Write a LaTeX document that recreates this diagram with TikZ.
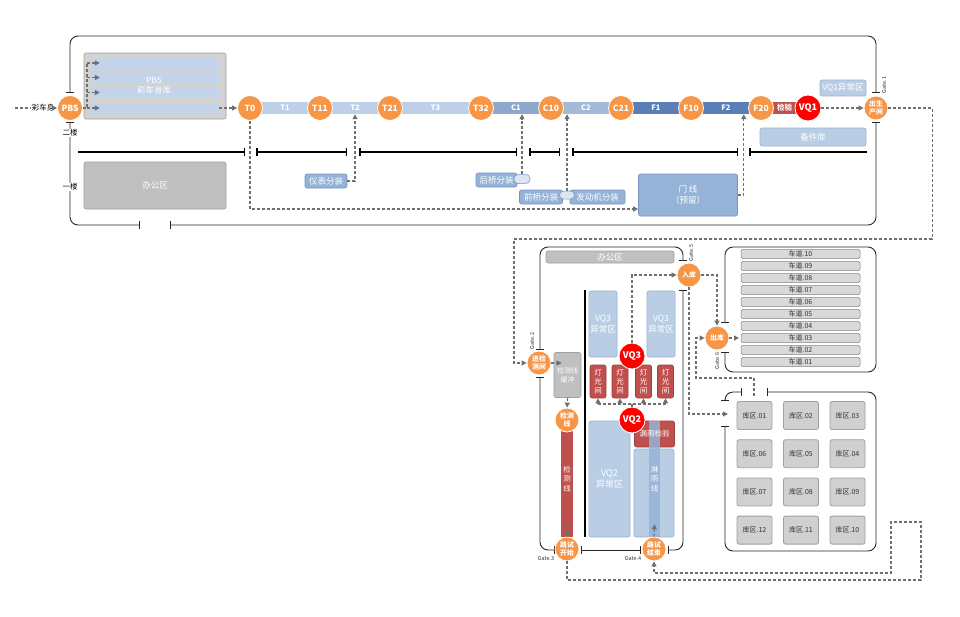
\documentclass[tikz,border=0pt]{standalone}
\usepackage{fontspec}
\setmainfont{Noto Sans CJK SC}
\usetikzlibrary{arrows.meta, positioning, calc, shapes.geometric}

\definecolor{orangeC}{HTML}{F79646}
\definecolor{vqred}{HTML}{FF0000}
\definecolor{redbar}{HTML}{C0504D}
\definecolor{tblue}{HTML}{BDD0E8}
\definecolor{cblue}{HTML}{8EA8CD}
\definecolor{ctwo}{HTML}{A3BAD9}
\definecolor{fblue}{HTML}{5A7EB6}
\definecolor{lblue}{HTML}{B9CDE5}
\definecolor{lbluedraw}{HTML}{9AB2D0}
\definecolor{mblue}{HTML}{95B3D7}
\definecolor{mbluedraw}{HTML}{7693BD}
\definecolor{grayC}{HTML}{C0C0C0}
\definecolor{grayD}{HTML}{A0A0A0}
\definecolor{pbsgray}{HTML}{D2D2D2}
\definecolor{stripeblue}{HTML}{C3D4EA}
\definecolor{lanegray}{HTML}{D9D9D9}
\definecolor{flowgray}{HTML}{707070}

\begin{document}
\begin{tikzpicture}[x=1pt, y=-1pt,
    stnode/.style={circle, fill=orangeC, draw=white, line width=0.8pt, minimum size=25pt, inner sep=0pt,
        text=white, font=\bfseries\fontsize{8.5}{9}\selectfont},
    gatenode/.style={stnode, minimum size=24pt, align=center, font=\bfseries\fontsize{6.8}{8.3}\selectfont},
    vqnode/.style={stnode, fill=vqred, minimum size=26pt, font=\bfseries\fontsize{9}{9}\selectfont},
    linebar/.style={rectangle, minimum height=12pt, inner sep=0pt, text=white, font=\bfseries\fontsize{7.5}{8}\selectfont},
    graybox/.style={rectangle, rounded corners=2pt, fill=grayC, draw=grayD, line width=0.6pt, inner sep=0pt,
        text=white, align=center, font=\fontsize{8.5}{10.5}\selectfont},
    bluebox/.style={graybox, fill=lblue, draw=lbluedraw},
    midbox/.style={graybox, fill=mblue, draw=mbluedraw},
    redbox/.style={graybox, fill=redbar, draw=redbar!80!black, font=\fontsize{7.5}{9}\selectfont},
    pill/.style={rectangle, rounded corners=4pt, fill=lblue!50, draw=mbluedraw, line width=0.5pt,
        minimum width=16pt, minimum height=9pt, inner sep=0pt},
    lanebox/.style={rectangle, rounded corners=1.5pt, fill=lanegray, draw=gray, line width=0.5pt, inner sep=0pt,
        minimum width=119pt, minimum height=9pt, font=\fontsize{7}{8}\selectfont, text=black!80},
    cellbox/.style={lanebox, rounded corners=2pt, fill=lanegray!90!gray, draw=grayD, line width=0.8pt,
        minimum width=35pt, minimum height=28pt},
    gatelbl/.style={inner sep=0pt, font=\fontsize{5.5}{6}\selectfont, text=black!80},
    floorlbl/.style={fill=white, inner sep=1pt, font=\fontsize{7.5}{8}\selectfont},
    wall/.style={draw=black!85, line width=0.9pt, rounded corners=8pt},
    floorln/.style={draw=black, line width=1.5pt},
    flowline/.style={draw=flowgray, dash pattern=on 3pt off 2pt, line width=1.2pt},
    flow/.style={flowline, -{Triangle[length=5pt, width=5pt]}}
]
\useasboundingbox (0,0) rectangle (960,616);

% ---------- production building ----------
\draw[wall, {Bar[width=8pt]}-{Bar[width=8pt]}] (70,93) -- (70,36) -- (876,36) -- (876,93);
\draw[wall, {Bar[width=8pt]}-{Bar[width=8pt]}] (70,122) -- (70,225) -- (140,225);
\draw[wall, {Bar[width=8pt]}-{Bar[width=8pt]}] (170,225) -- (876,225) -- (876,122);

\draw[floorln, -{Bar[width=8pt]}] (78,152) -- (245,152);
\foreach \a/\b in {256/347, 359/517, 529/560, 572/738}
    \draw[floorln, {Bar[width=8pt]}-{Bar[width=8pt]}] (\a,152) -- (\b,152);
\draw[floorln, {Bar[width=8pt]}-] (749,152) -- (867,152);

\node[floorlbl] (floor2) at (70,133) {二楼};
\node[floorlbl] (floor1) at (70,187) {一楼};

% PBS store
\node[graybox, fill=pbsgray, minimum width=142pt, minimum height=66pt] (pbsku) at (155,86) {};
\foreach \y [count=\i] in {63,77.5,92.5,108}
    \node[fill=stripeblue, minimum width=127pt, minimum height=11pt, inner sep=0pt] (s\i) at (155.5,\y) {};
\node[text=white, align=center, font=\fontsize{8.5}{10.5}\selectfont] (pbstxt) at (154,85.5) {PBS\\彩车身库};

\node[graybox, minimum width=142pt, minimum height=47pt] (office1) at (155,185.5) {办公区};

% main line
\foreach \n/\x/\w/\c in {T1/285/70pt/tblue, T2/355/70pt/tblue, T3/435.5/91pt/tblue, C1/516/70pt/cblue,
        C2/586/70pt/ctwo, F1/656/70pt/fblue, F2/726/70pt/fblue}
    \node[linebar, fill=\c, minimum width=\w] (b\n) at (\x,108) {\n};
\node[linebar, fill=redbar, minimum width=47pt] (bJY) at (784.5,108) {检验};

\foreach \n/\x in {T0/250, T11/320, T21/390, T32/481, C10/551, C21/621, F10/691, F20/761}
    \node[stnode] (\n) at (\x,108) {\n};
\node[vqnode] (VQ1) at (808,108) {VQ1};
\node[stnode] (PBS) at (70,108) {PBS};
\node[gatenode] (chusheng) at (876,108) {出生\\产间};
\node[gatelbl, rotate=90] (gate1) at (884,85) {Gate.1};

\node[bluebox, minimum width=46pt, minimum height=16pt] (vq1yc) at (843,88) {VQ1异常区};
\node[bluebox, minimum width=106pt, minimum height=18pt] (beijian) at (813,137) {备件库};

\node[midbox, minimum width=42pt, minimum height=14pt] (yibiao) at (326,181) {仪表分装};
\node[midbox, minimum width=41pt, minimum height=14pt] (houqiao) at (496.5,180) {后桥分装};
\node[pill] (pill1) at (522,179) {};
\node[midbox, minimum width=43pt, minimum height=14pt] (qianqiao) at (541,197) {前桥分装};
\node[midbox, minimum width=55pt, minimum height=14pt] (fadongji) at (597.5,197) {发动机分装};
\node[pill, minimum width=15pt, minimum height=8pt] (pill2) at (567,195) {};
\node[midbox, minimum width=99pt, minimum height=42pt] (menxian) at (688,195) {门 线\\（预留）};

% flows, upper part
\node[inner sep=1pt, font=\fontsize{7.5}{8}\selectfont] (caiche) at (43,108) {彩车身};
\draw[flowline] (15,108) -- (caiche);
\draw[flow] (caiche) -- (PBS);
\coordinate (pbsbus) at (87,108);
\draw[flowline] (PBS.east) -- (pbsbus) -- (pbsbus |- s1.west);
\foreach \i in {1,...,4}
    \draw[flow] (pbsbus |- s\i.west) -- ([xshift=8pt]s\i.west);
\draw[flow] (s4.east) -- (T0);
\draw[flow] (T0.south) |- ([yshift=-14pt]menxian.west);
\draw[flow] (yibiao.east) -| (bT2.south);
\draw[flow] (pill1.north) -- (pill1.north |- bC1.south);
\draw[flow] (pill2.north) -- (pill2.north |- bC2.south);
\draw[flow] (menxian.east) -- ++(6,0) coordinate (mx) -- (mx |- bF2.south);
\draw[flow] (VQ1) -- (chusheng);

% ---------- inspection building ----------
\draw[wall, {Bar[width=8pt]}-{Bar[width=8pt]}] (540,350) -- (540,247) -- (683,247) -- (683,261);
\draw[wall, {Bar[width=8pt]}-{Bar[width=8pt]}] (540,377) -- (540,550) -- (555,550);
\draw[wall, {Bar[width=8pt]}-{Bar[width=8pt]}] (581,550) -- (641,550);
\draw[wall, {Bar[width=8pt]}-{Bar[width=8pt]}] (668,550) -- (683,550) -- (683,290);
\draw[floorln] (585,290) -- (585,537);

\node[graybox, minimum width=128pt, minimum height=12pt] (office2) at (610,257) {办公区};
\node[bluebox, minimum width=28pt, minimum height=66pt] (vq3l) at (603,324) {VQ3\\异常区};
\node[bluebox, minimum width=28pt, minimum height=66pt] (vq3r) at (661,324) {VQ3\\异常区};
\foreach \x [count=\i] in {598,620,643.5,665.5}
    \node[redbox, minimum width=16pt, minimum height=33pt] (lamp\i) at (\x,381.5) {灯\\光\\间};
\node[graybox, minimum width=27pt, minimum height=45pt, font=\fontsize{7}{9}\selectfont] (huanchong) at (567.5,375) {检测线\\缓冲};
\node[bluebox, minimum width=41pt, minimum height=116pt, font=\fontsize{9}{11.5}\selectfont] (vq2yc) at (609.5,479) {VQ2\\异常区};
\node[redbox, minimum width=40pt, minimum height=26pt] (louyu) at (654.5,434) {};
\node[bluebox, minimum width=40pt, minimum height=88pt] (linyubox) at (654,493) {};
\node[linebar, fill=mblue, fill opacity=0.85, text opacity=1, minimum width=11pt, minimum height=116pt, align=center,
    font=\fontsize{7.5}{9.5}\selectfont] (linyu) at (654.5,479) {淋\\雨\\线};
\node[text=white, font=\fontsize{7.5}{9}\selectfont] (louyutxt) at (louyu) {漏雨检验};
\node[linebar, fill=redbar, minimum width=12pt, minimum height=116pt, align=center,
    font=\fontsize{7.5}{9.5}\selectfont] (jcline) at (567,479) {检\\测\\线};

\node[gatenode] (jinjian) at (539,363) {进检\\测间};
\node[gatenode] (ruku) at (689,275) {入库};
\node[gatenode] (jiance) at (567,420) {检测\\线};
\node[gatenode] (lsstart) at (567,549) {路试\\开始};
\node[gatenode] (lsend) at (654,549) {路试\\结束};
\node[vqnode] (VQ3) at (632,356) {VQ3};
\node[vqnode] (VQ2) at (632,420) {VQ2};

\node[gatelbl, rotate=90] (gate2) at (532,341) {Gate.2};
\node[gatelbl, rotate=90] (gate5) at (691,253) {Gate.5};
\node[gatelbl] (gate3) at (546,558) {Gate.3};
\node[gatelbl] (gate4) at (633,558) {Gate.4};

% ---------- lanes and storage ----------
\draw[wall, {Bar[width=8pt]}-{Bar[width=8pt]}] (725,323) -- (725,247) -- (876,247) -- (876,372) -- (725,372) -- (725,352);
\foreach \n [count=\i] in {01,02,03,04,05,06,07,08,09,10}
    \node[lanebox] (lane\n) at (800.5,{374-12*\i}) {车道.\n};
\node[gatenode] (chuku) at (717,338) {出库};
\node[gatelbl, rotate=90] (gate6) at (717,361) {Gate.6};

\draw[wall, {Bar[width=8pt]}-{Bar[width=8pt]}] (742,392) -- (725,392) -- (725,401);
\draw[wall, {Bar[width=8pt]}-{Bar[width=8pt]}] (767,392) -- (876,392) -- (876,551) -- (725,551) -- (725,426);
\foreach \n/\c/\r in {01/0/0, 02/1/0, 03/2/0, 06/0/1, 05/1/1, 04/2/1,
        07/0/2, 08/1/2, 09/2/2, 12/0/3, 11/1/3, 10/2/3}
    \node[cellbox] (cell\n) at ({754.5+46.5*\c},{415.5+38.2*\r}) {库区.\n};
\coordinate (kqin) at (728,414);
\coordinate (kqout) at (754,396);
\coordinate (cdin) at (739,338);

% flows, lower part
\draw[flow] (chusheng.east) -- ++(44,0) |- (514,239) |- (jinjian.west);
\draw[flow] (jinjian.east) -- ([xshift=8pt]huanchong.west |- jinjian.east);
\draw[flow] (huanchong.south) -- (jiance.north);
\draw[flow] ([yshift=13pt]jcline.south) -- (jcline.south);
\draw[flow] (lsstart.south) |- (921,580) -- (921,522) -| (891,573) -| (lsend.south);
\draw[flow] (lsend.north) -- ([yshift=13pt]linyu.south);
\coordinate (lampbus) at (632,404);
\draw[flowline] (VQ2.north) -- (lampbus);
\draw[flowline] (lamp1.south |- lampbus) -- (lamp4.south |- lampbus);
\foreach \i in {1,...,4}
    \draw[flow] (lamp\i.south |- lampbus) -- (lamp\i.south);
\draw[flow] (VQ3.north) |- (ruku.west);
\draw[flow] (ruku.east) -| (chuku.north);
\draw[flow] (ruku.south) |- (kqin);
\draw[flow] (kqout) |- (696,378) |- (chuku.west);
\draw[flow] (chuku.east) -- (cdin);
\end{tikzpicture}
\end{document}
